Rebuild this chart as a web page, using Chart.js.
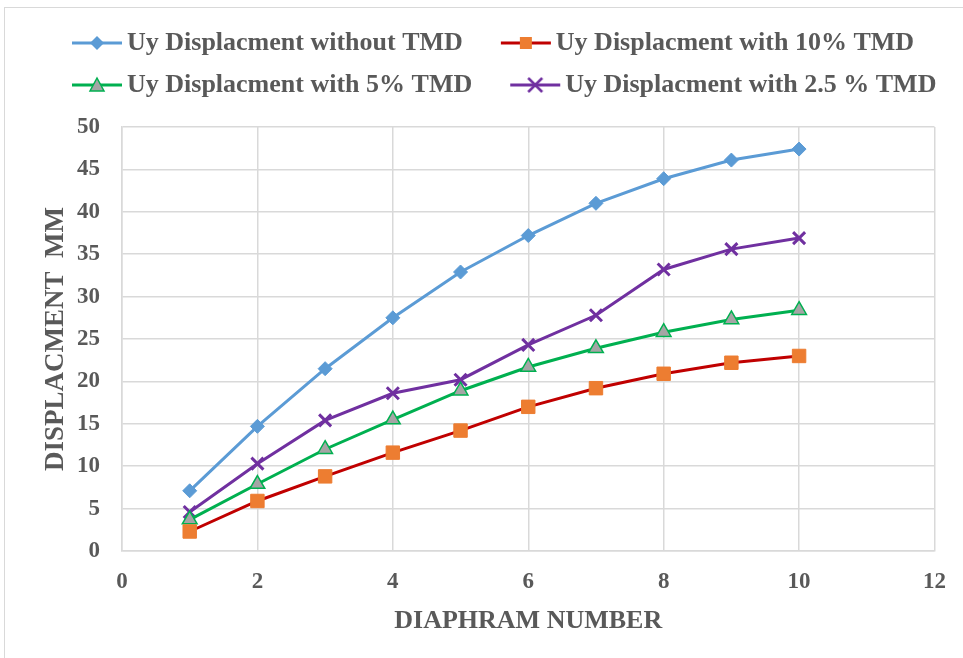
<!DOCTYPE html>
<html>
<head>
<meta charset="utf-8">
<script src="https://cdn.jsdelivr.net/npm/chart.js@4.4.1/dist/chart.umd.min.js"></script>
<style>
  body { margin: 0; background: #fff; }
  #wrap { position: relative; width: 963px; height: 658px; }
  #frame { position: absolute; left: 4px; top: 7px; width: 980px; height: 700px; border: 1px solid #d9d9d9; pointer-events: none; }
</style>
</head>
<body>
<div id="wrap">
  <canvas id="chart" width="963" height="658"></canvas>
  <div id="frame"></div>
</div>
<script>
const diaphragms = [1, 2, 3, 4, 5, 6, 7, 8, 9, 10];
const withoutTMD = [7.1, 14.7, 21.5, 27.5, 32.9, 37.2, 41.0, 43.9, 46.1, 47.4];
const with10TMD = [2.3, 5.9, 8.8, 11.6, 14.2, 17.0, 19.2, 20.9, 22.2, 23.0];
const with5TMD = [3.7, 7.9, 12.0, 15.5, 18.9, 21.7, 23.9, 25.8, 27.3, 28.4];
const with25TMD = [4.6, 10.3, 15.4, 18.6, 20.2, 24.3, 27.8, 33.2, 35.6, 36.9];

const FONT = "'Liberation Serif', 'Times New Roman', serif";
const TEXT = "#595959";
const GRID = "#d9d9d9";
const BOX_W = 64;   // layout width of a legend symbol
const ICON_W = 82;  // drawn width (wider, so the line can run up to the text)

// legend icon: a line with the marker in its middle
function makeIcon(lineColor, fill, stroke, shape) {
  const c = document.createElement("canvas");
  c.width = ICON_W; c.height = 20;
  const ctx = c.getContext("2d");
  const x0 = 31, x1 = 81;
  const cx = (x0 + x1) / 2, cy = 10;
  ctx.strokeStyle = lineColor;
  ctx.lineWidth = 3;
  ctx.beginPath(); ctx.moveTo(x0, cy); ctx.lineTo(x1, cy); ctx.stroke();
  ctx.fillStyle = fill;
  ctx.strokeStyle = stroke;
  ctx.lineWidth = 1.5;
  ctx.beginPath();
  if (shape === "diamond") {
    ctx.moveTo(cx, cy - 7); ctx.lineTo(cx + 7, cy); ctx.lineTo(cx, cy + 7); ctx.lineTo(cx - 7, cy);
    ctx.closePath(); ctx.fill();
  } else if (shape === "square") {
    ctx.rect(cx - 6, cy - 6, 12, 12); ctx.fill();
  } else if (shape === "triangle") {
    ctx.moveTo(cx, cy - 7); ctx.lineTo(cx + 7, cy + 6); ctx.lineTo(cx - 7, cy + 6);
    ctx.closePath(); ctx.fill(); ctx.stroke();
  } else {
    ctx.lineWidth = 2.5;
    ctx.moveTo(cx - 7, cy - 7); ctx.lineTo(cx + 7, cy + 7);
    ctx.moveTo(cx + 7, cy - 7); ctx.lineTo(cx - 7, cy + 7);
    ctx.stroke();
  }
  return c;
}

const series = [
  { label: "Uy Displacment without TMD", values: withoutTMD, line: "#5b9bd5", fill: "#5b9bd5", stroke: "#5b9bd5", style: "rectRot", radius: 7, bw: 1, icon: "diamond" },
  { label: "Uy Displacment with 10% TMD", values: with10TMD, line: "#c00000", fill: "#ed7d31", stroke: "#ed7d31", style: "rect", radius: 9.5, bw: 1, icon: "square" },
  { label: "Uy Displacment with 5% TMD", values: with5TMD, line: "#00b050", fill: "#a5a5a5", stroke: "#00b050", style: "triangle", radius: 8.5, bw: 1.5, icon: "triangle" },
  { label: "Uy Displacment with 2.5 % TMD", values: with25TMD, line: "#7030a0", fill: "#7030a0", stroke: "#7030a0", style: "crossRot", radius: 8.5, bw: 3, icon: "cross" }
];

const icons = series.map(s => makeIcon(s.line, s.fill, s.stroke, s.icon));

// two legend items per row, and the plot area pushed down below the legend
const EXTRA_W = 40;
const legendFit = {
  id: "legendFit",
  beforeLayout(chart) {
    const lg = chart.legend;
    if (lg && !lg._fitPatched) {
      const fit = lg.fit;
      const draw = lg.draw;
      lg.fit = function () {
        const mw = this.maxWidth;
        this.maxWidth = mw + EXTRA_W;
        fit.call(this);
        this.maxWidth = mw;
        this.width = Math.min(this.width, mw);
        this.height += 19;
      };
      lg.draw = function () {
        this.right += EXTRA_W;
        draw.call(this);
        this.right -= EXTRA_W;
      };
      lg._fitPatched = true;
    }
  }
};

new Chart(document.getElementById("chart"), {
  type: "line",
  data: {
    datasets: series.map(s => ({
      label: s.label,
      data: diaphragms.map((d, i) => ({ x: d, y: s.values[i] })),
      borderColor: s.line,
      borderWidth: 3,
      backgroundColor: s.fill,
      pointStyle: s.style,
      pointRadius: s.radius,
      pointBackgroundColor: s.fill,
      pointBorderColor: s.stroke,
      pointBorderWidth: s.bw,
      tension: 0,
      fill: false
    }))
  },
  plugins: [legendFit],
  options: {
    responsive: false,
    animation: false,
    layout: { padding: { top: 14, right: 27, left: 34, bottom: 0 } },
    plugins: {
      tooltip: { enabled: false },
      legend: {
        position: "top",
        align: "start",
        labels: {
          usePointStyle: true,
          pointStyleWidth: BOX_W,
          boxHeight: 20,
          padding: 16,
          color: TEXT,
          font: { family: FONT, size: 26, weight: "bold" },
          generateLabels: chart => chart.data.datasets.map((ds, i) => ({
            text: ds.label,
            pointStyle: icons[i],
            fontColor: TEXT,
            datasetIndex: i,
            lineWidth: 0
          }))
        }
      }
    },
    scales: {
      x: {
        type: "linear",
        min: 0,
        max: 12,
        ticks: { stepSize: 2, color: TEXT, padding: 17, font: { family: FONT, size: 23, weight: "bold" } },
        grid: { color: GRID, lineWidth: 1.5, drawTicks: false },
        border: { color: GRID, width: 1.5 },
        title: { display: true, text: "DIAPHRAM NUMBER", color: TEXT, padding: { top: 4, bottom: 21 }, font: { family: FONT, size: 26, weight: "bold" } },
        afterFit: scale => { scale.height = 107; }
      },
      y: {
        min: 0,
        max: 50,
        ticks: { stepSize: 5, color: TEXT, padding: 22, font: { family: FONT, size: 23, weight: "bold" } },
        grid: { color: GRID, lineWidth: 1.5, drawTicks: false },
        border: { color: GRID, width: 1.5 },
        title: { display: true, text: "DISPLACMENT  MM", color: TEXT, padding: { top: 6, bottom: 0 }, font: { family: FONT, size: 27, weight: "bold" } },
        afterFit: scale => { scale.width = 88; }
      }
    }
  }
});
</script>
</body>
</html>
